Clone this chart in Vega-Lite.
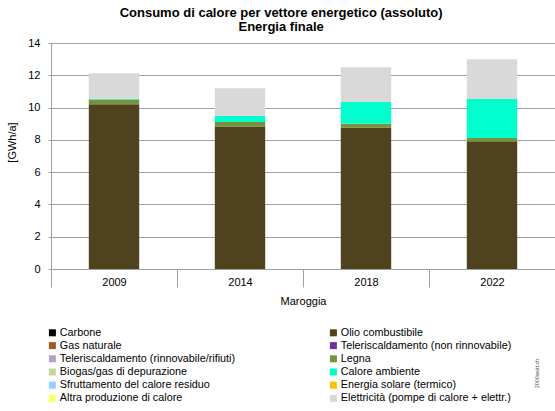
{
  "$schema": "https://vega.github.io/schema/vega-lite/v6.json",
  "autosize": "none",
  "width": 504,
  "height": 226,
  "padding": {"left": 51, "top": 43, "right": 0, "bottom": 142},
  "background": "white",
  "config": {
    "font": "Liberation Sans",
    "view": {"stroke": null}
  },
  "title": {
    "text": ["Consumo di calore per vettore energetico (assoluto)", "Energia finale"],
    "fontSize": 13,
    "fontWeight": "bold",
    "color": "#000000",
    "anchor": "middle",
    "frame": "bounds",
    "offset": 3,
    "lineHeight": 14
  },
  "data": {
    "values": [
      {"anno": "2009", "vettore": "Olio combustibile", "valore": 10.2},
      {"anno": "2009", "vettore": "Legna", "valore": 0.3},
      {"anno": "2009", "vettore": "Calore ambiente", "valore": 0.04},
      {"anno": "2009", "vettore": "Elettricità (pompe di calore + elettr.)", "valore": 1.58},
      {"anno": "2014", "vettore": "Olio combustibile", "valore": 8.82},
      {"anno": "2014", "vettore": "Legna", "valore": 0.28},
      {"anno": "2014", "vettore": "Calore ambiente", "valore": 0.38},
      {"anno": "2014", "vettore": "Elettricità (pompe di calore + elettr.)", "valore": 1.71},
      {"anno": "2018", "vettore": "Olio combustibile", "valore": 8.76},
      {"anno": "2018", "vettore": "Legna", "valore": 0.24},
      {"anno": "2018", "vettore": "Calore ambiente", "valore": 1.35},
      {"anno": "2018", "vettore": "Elettricità (pompe di calore + elettr.)", "valore": 2.15},
      {"anno": "2022", "vettore": "Olio combustibile", "valore": 7.91},
      {"anno": "2022", "vettore": "Legna", "valore": 0.21},
      {"anno": "2022", "vettore": "Calore ambiente", "valore": 2.41},
      {"anno": "2022", "vettore": "Elettricità (pompe di calore + elettr.)", "valore": 2.47}
    ]
  },
  "layer": [
    {
      "transform": [
        {"calculate": "indexof(['Carbone', 'Olio combustibile', 'Gas naturale', 'Teleriscaldamento (non rinnovabile)', 'Teleriscaldamento (rinnovabile/rifiuti)', 'Legna', 'Biogas/gas di depurazione', 'Calore ambiente', 'Sfruttamento del calore residuo', 'Energia solare (termico)', 'Altra produzione di calore', 'Elettricità (pompe di calore + elettr.)'], datum.vettore)", "as": "ordine"}
      ],
      "mark": {"type": "bar", "width": {"band": 0.4}},
      "encoding": {
        "x": {
          "field": "anno",
          "type": "ordinal",
          "scale": {"paddingInner": 0, "paddingOuter": 0},
          "axis": {
            "title": "Maroggia",
            "titleFontSize": 11,
            "titleFontWeight": "normal",
            "titleColor": "#000000",
            "titlePadding": 8,
            "labelAngle": 0,
            "labelFontSize": 11,
            "labelColor": "#000000",
            "labelPadding": -11,
            "tickBand": "extent",
            "tickSize": 18,
            "tickColor": "#a0a0a0",
            "domainColor": "#a0a0a0",
            "grid": false
          }
        },
        "y": {
          "field": "valore",
          "type": "quantitative",
          "aggregate": "sum",
          "stack": "zero",
          "scale": {"domain": [0, 14], "nice": false},
          "axis": {
            "title": "[GWh/a]",
            "titleFontSize": 11,
            "titleFontWeight": "normal",
            "titleColor": "#000000",
            "titlePadding": 10,
            "titleY": 99,
            "values": [0, 2, 4, 6, 8, 10, 12, 14],
            "labelFontSize": 11,
            "labelColor": "#000000",
            "labelPadding": 8,
            "tickSize": 3,
            "tickColor": "#a0a0a0",
            "domainColor": "#a0a0a0",
            "gridColor": "#a0a0a0",
            "gridOpacity": 1
          }
        },
        "order": {"field": "ordine", "type": "quantitative", "sort": "ascending"},
        "color": {
          "field": "vettore",
          "type": "nominal",
          "scale": {
            "domain": ["Carbone", "Olio combustibile", "Gas naturale", "Teleriscaldamento (non rinnovabile)", "Teleriscaldamento (rinnovabile/rifiuti)", "Legna", "Biogas/gas di depurazione", "Calore ambiente", "Sfruttamento del calore residuo", "Energia solare (termico)", "Altra produzione di calore", "Elettricità (pompe di calore + elettr.)"],
            "range": ["#000000", "#4f421e", "#9c5b2c", "#7030a0", "#b3a2c7", "#77933c", "#c3d69b", "#00ffcc", "#99ccff", "#ffc000", "#ffff66", "#d9d9d9"]
          },
          "legend": {
            "title": null,
            "orient": "none",
            "legendX": -4,
            "legendY": 284,
            "direction": "horizontal",
            "columns": 2,
            "columnPadding": 92,
            "rowPadding": 1.2,
            "symbolType": "square",
            "symbolSize": 49,
            "symbolStrokeWidth": 0,
            "labelFontSize": 10.8,
            "labelColor": "#000000",
            "labelOffset": 2,
            "labelLimit": 300
          }
        }
      }
    },
    {
      "mark": {"type": "rule", "opacity": 0},
      "encoding": {
        "y": {
          "datum": 0,
          "type": "quantitative",
          "axis": {
            "orient": "right",
            "title": "2000watt.ch",
            "titleFontSize": 5.5,
            "titleFontWeight": "normal",
            "titleColor": "#555555",
            "titleAngle": 270,
            "titleX": -16,
            "titleY": 330,
            "labels": false,
            "ticks": false,
            "domain": false,
            "grid": false
          }
        }
      }
    }
  ],
  "resolve": {"axis": {"y": "independent"}}
}
